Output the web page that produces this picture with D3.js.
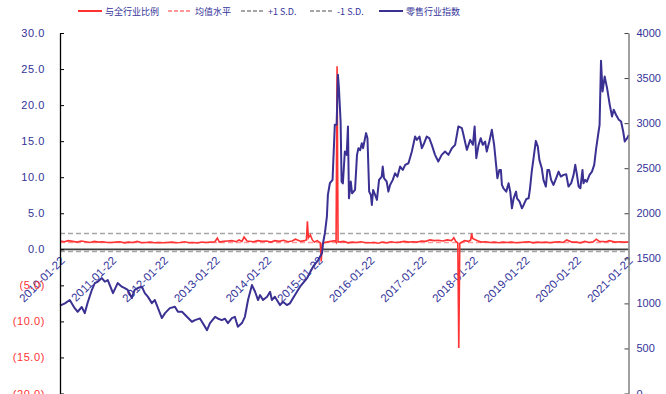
<!DOCTYPE html>
<meta charset="utf-8">
<html>
<head>
  <title>零售行业指数</title>
  <style>
    body { margin: 0; background: #fff; }
    svg { width: 666px; height: 394px; display: block; }
    .tick text { font-family: "Liberation Sans", Arial, sans-serif; font-size: 11px; }
    .xaxis .tick text { font-size: 11.5px; }
    .legend text { font-family: "Noto Sans CJK SC", sans-serif; font-size: 9px; fill: #333399; }
  </style>
  <script src="https://d3js.org/d3.v7.min.js"></script>
</head>
<body>
<svg></svg>
<script>
  // legend labels
  var seriesNames = ["与全行业比例", "均值水平", "+1 S.D.", "-1 S.D.", "零售行业指数"];

  // x tick labels (one per year)
  var xTicks = ["2010-01-22", "2011-01-22", "2012-01-22", "2013-01-22", "2014-01-22", "2015-01-22",
                "2016-01-22", "2017-01-22", "2018-01-22", "2019-01-22", "2020-01-22", "2021-01-22"];
  var leftTicks = [30, 25, 20, 15, 10, 5, 0, -5, -10, -15, -20];
  var rightTicks = [4000, 3500, 3000, 2500, 2000, 1500, 1000, 500, 0];

  // reference levels of the ratio
  var meanLevel = 0.93;
  var sdUpper = 2.18;
  var sdLower = -0.32;

  // 零售行业指数 (right axis)
  var indexData = [
    ["2010-01-22", 975], ["2010-02-26", 1000], ["2010-04-01", 1037], ["2010-05-06", 947], ["2010-05-27", 907],
    ["2010-06-25", 960], ["2010-07-16", 892], ["2010-08-06", 1010], ["2010-09-04", 1148], ["2010-09-25", 1225],
    ["2010-10-16", 1240], ["2010-11-14", 1281], ["2010-12-05", 1240], ["2010-12-26", 1259], ["2011-02-01", 1114],
    ["2011-03-06", 1225], ["2011-04-04", 1185], ["2011-04-25", 1170], ["2011-05-16", 1150], ["2011-06-14", 1059],
    ["2011-07-04", 1150], ["2011-07-26", 1170], ["2011-08-24", 1185], ["2011-09-14", 1114], ["2011-10-05", 1075],
    ["2011-11-03", 1003], ["2011-11-24", 1037], ["2012-01-13", 837], ["2012-02-04", 892], ["2012-03-09", 947],
    ["2012-04-14", 962], ["2012-05-05", 907], ["2012-06-03", 907], ["2012-07-08", 851], ["2012-08-12", 796],
    ["2012-09-03", 814], ["2012-10-08", 833], ["2012-10-22", 796], ["2012-11-27", 703], ["2012-12-18", 781],
    ["2013-01-23", 851], ["2013-02-14", 830], ["2013-03-12", 814], ["2013-04-03", 830], ["2013-04-24", 781],
    ["2013-05-22", 837], ["2013-06-12", 851], ["2013-07-03", 740], ["2013-08-01", 781], ["2013-08-22", 851],
    ["2013-09-13", 1037], ["2013-10-11", 1203], ["2013-11-02", 1129], ["2013-11-23", 1037], ["2013-12-07", 1092],
    ["2013-12-28", 1037], ["2014-01-26", 1074], ["2014-02-16", 1129], ["2014-03-01", 1037], ["2014-03-22", 1074],
    ["2014-04-27", 981], ["2014-05-18", 1018], ["2014-06-15", 981], ["2014-07-06", 1000], ["2014-08-11", 1092],
    ["2014-09-16", 1185], ["2014-11-05", 1281], ["2014-12-17", 1407], ["2015-01-22", 1481], ["2015-02-19", 1559],
    ["2015-02-26", 1670], ["2015-03-11", 1781], ["2015-03-25", 1962], ["2015-04-01", 2203], ["2015-04-15", 2333],
    ["2015-05-04", 2370], ["2015-05-20", 2981], ["2015-06-02", 2981], ["2015-06-11", 3537], ["2015-06-18", 3392],
    ["2015-06-30", 3018], ["2015-07-07", 2351], ["2015-07-16", 2330], ["2015-07-30", 2685], ["2015-08-12", 2648],
    ["2015-08-21", 2963], ["2015-08-28", 2166], ["2015-09-10", 2351], ["2015-09-19", 2222], ["2015-10-10", 2259],
    ["2015-10-24", 2648], ["2015-11-03", 2722], ["2015-11-15", 2700], ["2015-11-27", 2777], ["2015-12-06", 2722],
    ["2015-12-27", 2889], ["2016-01-06", 2833], ["2016-01-18", 2240], ["2016-01-30", 2203], ["2016-02-06", 2092],
    ["2016-02-15", 2259], ["2016-02-29", 2203], ["2016-03-13", 2148], ["2016-03-28", 2370], ["2016-04-16", 2407],
    ["2016-04-23", 2518], ["2016-05-02", 2389], ["2016-05-21", 2350], ["2016-06-02", 2240], ["2016-06-14", 2314],
    ["2016-07-03", 2370], ["2016-07-19", 2444], ["2016-08-05", 2407], ["2016-08-24", 2518], ["2016-09-12", 2481],
    ["2016-09-29", 2537], ["2016-10-22", 2555], ["2016-11-15", 2685], ["2016-12-08", 2851], ["2016-12-20", 2814],
    ["2017-01-08", 2851], ["2017-01-25", 2722], ["2017-02-10", 2777], ["2017-02-28", 2851], ["2017-03-18", 2833],
    ["2017-04-05", 2759], ["2017-04-28", 2648], ["2017-05-21", 2574], ["2017-06-14", 2648], ["2017-07-08", 2685],
    ["2017-08-01", 2648], ["2017-08-25", 2722], ["2017-09-17", 2759], ["2017-10-10", 2963], ["2017-11-04", 2944],
    ["2017-11-15", 2870], ["2017-12-09", 2703], ["2018-01-02", 2814], ["2018-01-21", 2760], ["2018-02-02", 2963],
    ["2018-02-14", 2611], ["2018-03-01", 2750], ["2018-03-17", 2833], ["2018-04-01", 2759], ["2018-04-17", 2796],
    ["2018-04-29", 2685], ["2018-05-17", 2796], ["2018-06-04", 2926], ["2018-06-20", 2759], ["2018-07-04", 2537],
    ["2018-07-13", 2389], ["2018-07-27", 2481], ["2018-08-07", 2481], ["2018-08-14", 2314], ["2018-08-25", 2277],
    ["2018-09-14", 2240], ["2018-09-30", 2333], ["2018-10-12", 2240], ["2018-10-24", 2055], ["2018-11-05", 2166],
    ["2018-11-22", 2240], ["2018-11-29", 2166], ["2018-12-17", 2129], ["2019-01-03", 2055], ["2019-01-15", 2092],
    ["2019-02-03", 2159], ["2019-02-19", 2166], ["2019-03-01", 2277], ["2019-03-13", 2462], ["2019-03-29", 2648],
    ["2019-04-11", 2803], ["2019-04-25", 2740], ["2019-05-06", 2592], ["2019-05-23", 2500], ["2019-06-04", 2370],
    ["2019-06-21", 2296], ["2019-07-02", 2481], ["2019-07-14", 2481], ["2019-07-28", 2370], ["2019-08-14", 2314],
    ["2019-09-02", 2389], ["2019-09-19", 2462], ["2019-10-05", 2407], ["2019-10-24", 2426], ["2019-11-12", 2433],
    ["2019-11-28", 2296], ["2019-12-17", 2333], ["2020-01-03", 2426], ["2020-01-15", 2537], ["2020-01-27", 2426],
    ["2020-02-08", 2296], ["2020-02-20", 2277], ["2020-03-06", 2481], ["2020-03-13", 2333], ["2020-03-25", 2370],
    ["2020-04-06", 2350], ["2020-04-25", 2426], ["2020-05-12", 2462], ["2020-05-28", 2537], ["2020-06-11", 2722],
    ["2020-06-28", 2907], ["2020-07-05", 2981], ["2020-07-15", 3692], ["2020-07-26", 3351], ["2020-08-10", 3518],
    ["2020-08-27", 3388], ["2020-09-15", 3203], ["2020-10-01", 3073], ["2020-10-13", 3148], ["2020-10-30", 3090],
    ["2020-11-18", 3037], ["2020-12-04", 3018], ["2020-12-19", 2907], ["2020-12-30", 2796], ["2021-01-16", 2833],
    ["2021-01-28", 2870]
  ];

  // 与全行业比例 (left axis)
  var ratioData = [
    ["2010-01-22", 1.15], ["2010-02-22", 1.05], ["2010-03-22", 1.2], ["2010-04-22", 1.1], ["2010-05-22", 1.0],
    ["2010-06-22", 1.15], ["2010-07-22", 1.05], ["2010-08-22", 0.95], ["2010-09-22", 1.1], ["2010-10-22", 1.0],
    ["2010-11-22", 1.05], ["2010-12-22", 0.95], ["2011-01-22", 0.95], ["2011-02-22", 1.0], ["2011-03-22", 1.05],
    ["2011-04-22", 0.9], ["2011-05-22", 1.0], ["2011-06-22", 0.95], ["2011-07-22", 1.1], ["2011-08-22", 0.9],
    ["2011-09-22", 0.95], ["2011-10-22", 1.0], ["2011-11-22", 0.9], ["2011-12-22", 0.95], ["2012-01-22", 0.9],
    ["2012-02-22", 0.95], ["2012-03-22", 1.0], ["2012-04-22", 0.9], ["2012-05-22", 0.95], ["2012-06-22", 1.05],
    ["2012-07-22", 0.9], ["2012-08-22", 0.95], ["2012-09-22", 0.88], ["2012-10-22", 1.0], ["2012-11-22", 0.95],
    ["2012-12-22", 1.0], ["2013-01-22", 1.05], ["2013-02-08", 1.55], ["2013-02-22", 1.0], ["2013-03-22", 1.1],
    ["2013-04-22", 1.15], ["2013-05-22", 1.2], ["2013-06-22", 1.05], ["2013-07-12", 1.3], ["2013-08-01", 1.1],
    ["2013-08-16", 1.7], ["2013-09-06", 1.15], ["2013-10-22", 1.05], ["2013-11-22", 1.2], ["2013-12-22", 1.1],
    ["2014-01-22", 1.15], ["2014-02-22", 1.0], ["2014-03-22", 1.2], ["2014-04-22", 1.1], ["2014-05-22", 1.25],
    ["2014-06-22", 1.05], ["2014-07-22", 1.15], ["2014-08-15", 1.4], ["2014-09-22", 1.1], ["2014-10-17", 1.2],
    ["2014-10-31", 1.3], ["2014-11-07", 3.9], ["2014-11-14", 1.6], ["2014-11-28", 2.0], ["2014-12-12", 1.3],
    ["2014-12-26", 1.0], ["2015-01-16", 1.2], ["2015-02-06", 0.9], ["2015-02-13", -1.7], ["2015-02-20", 0.8],
    ["2015-03-22", 1.0], ["2015-04-22", 1.1], ["2015-05-22", 1.2], ["2015-05-29", 1.0], ["2015-06-05", 25.4],
    ["2015-06-12", 1.0], ["2015-07-22", 1.1], ["2015-08-22", 0.9], ["2015-09-22", 1.0], ["2015-10-22", 0.95],
    ["2015-11-22", 1.05], ["2015-12-22", 0.9], ["2016-01-22", 0.9], ["2016-02-22", 0.95], ["2016-03-22", 0.85],
    ["2016-04-22", 1.0], ["2016-05-22", 0.9], ["2016-06-22", 1.05], ["2016-07-22", 0.95], ["2016-08-22", 1.0],
    ["2016-09-22", 1.1], ["2016-10-22", 1.0], ["2016-11-22", 1.05], ["2016-12-22", 1.0], ["2017-01-22", 1.15],
    ["2017-02-22", 1.1], ["2017-03-22", 1.3], ["2017-04-22", 1.2], ["2017-05-22", 1.25], ["2017-06-22", 1.15],
    ["2017-07-22", 1.3], ["2017-08-22", 1.2], ["2017-09-08", 1.6], ["2017-09-22", 1.1], ["2017-10-06", 0.9],
    ["2017-10-13", -13.7], ["2017-10-20", 0.8], ["2017-11-22", 1.2], ["2017-12-22", 1.1], ["2018-01-05", 1.3],
    ["2018-01-12", 2.2], ["2018-01-19", 1.5], ["2018-02-22", 1.2], ["2018-03-22", 1.0], ["2018-04-22", 1.05],
    ["2018-05-22", 0.95], ["2018-06-22", 1.0], ["2018-07-22", 0.9], ["2018-08-22", 1.0], ["2018-09-22", 0.95],
    ["2018-10-22", 1.0], ["2018-11-22", 0.9], ["2018-12-22", 0.95], ["2019-01-22", 1.0], ["2019-02-22", 1.05],
    ["2019-03-22", 0.9], ["2019-04-22", 1.0], ["2019-05-22", 0.95], ["2019-06-22", 1.0], ["2019-07-22", 0.9],
    ["2019-08-22", 1.0], ["2019-09-22", 1.05], ["2019-10-22", 0.95], ["2019-11-15", 1.3], ["2019-12-22", 1.0],
    ["2020-01-22", 1.0], ["2020-02-22", 0.9], ["2020-03-22", 1.1], ["2020-04-22", 0.95], ["2020-05-22", 1.05],
    ["2020-06-12", 1.4], ["2020-07-03", 1.1], ["2020-08-22", 1.05], ["2020-09-11", 1.2], ["2020-10-22", 1.0],
    ["2020-11-22", 1.05], ["2020-12-22", 1.0], ["2021-01-15", 1.0], ["2021-01-28", 1.05]
  ];

  var colorRatio = "#ff3333";
  var colorMean = "#ff9999";
  var colorSD = "#a6a6a6";
  var colorIndex = "#3a3193";
  var colorText = "#333399";

  var svg = d3.select("svg");
  var parseDate = d3.timeParse("%Y-%m-%d");

  // plot box (the bottom is cut off by the picture edge, as in the source)
  var plotLeft = 60, plotRight = 628.5, plotTop = 33, plotBottom = 393.5;

  var x = d3.scaleTime()
    .domain([parseDate(xTicks[0]), parseDate(xTicks[xTicks.length - 1])])
    .range([plotLeft, plotRight - 0.5]);
  var yL = d3.scaleLinear().domain([-20, 30]).range([plotBottom, plotTop]);
  var yR = d3.scaleLinear().domain([0, 4000]).range([plotBottom, plotTop]);

  // horizontal reference lines
  var refs = [
    {v: sdUpper, color: colorSD, dash: "5,3"},
    {v: sdLower, color: colorSD, dash: "5,3"},
    {v: meanLevel, color: colorMean, dash: "5,3"}
  ];
  svg.selectAll(".ref").data(refs).enter().append("line")
    .attr("class", "ref")
    .attr("x1", plotLeft).attr("x2", plotRight)
    .attr("y1", function(d) { return yL(d.v); })
    .attr("y2", function(d) { return yL(d.v); })
    .attr("stroke", function(d) { return d.color; })
    .attr("stroke-width", 1.5)
    .attr("stroke-dasharray", function(d) { return d.dash; });

  // x axis on the zero line, labels rotated
  var xAxis = svg.append("g")
    .attr("class", "xaxis")
    .attr("transform", "translate(0," + yL(0) + ")")
    .call(d3.axisBottom(x)
      .tickValues(xTicks.map(parseDate))
      .tickSize(0)
      .tickFormat(d3.timeFormat("%Y-%m-%d")));
  xAxis.select(".domain").attr("stroke", "#404040").attr("stroke-width", 1.8)
    .attr("d", "M" + plotLeft + ",0H" + plotRight);
  xAxis.selectAll("text")
    .attr("fill", colorText)
    .attr("text-anchor", "end")
    .attr("dy", null).attr("y", 0)
    .attr("transform", "translate(5,12) rotate(-45)");

  // ratio line
  var lineRatio = d3.line()
    .x(function(d) { return x(parseDate(d[0])); })
    .y(function(d) { return yL(d[1]); });
  svg.append("path")
    .datum(ratioData)
    .attr("fill", "none")
    .attr("stroke", colorRatio)
    .attr("stroke-width", 1.6)
    .attr("d", lineRatio);

  // index line
  var lineIndex = d3.line()
    .x(function(d) { return x(parseDate(d[0])); })
    .y(function(d) { return yR(d[1]); });
  svg.append("path")
    .datum(indexData)
    .attr("fill", "none")
    .attr("stroke", colorIndex)
    .attr("stroke-width", 2)
    .attr("stroke-linejoin", "round")
    .attr("d", lineIndex);

  // left axis
  var gL = svg.append("g")
    .attr("transform", "translate(" + plotLeft + ",0)")
    .call(d3.axisLeft(yL).tickValues(leftTicks).tickSizeInner(-4).tickSizeOuter(0).tickPadding(15)
      .tickFormat(function(d) { return d < 0 ? "(" + Math.abs(d).toFixed(1) + ")" : d.toFixed(1); }));
  gL.select(".domain").attr("stroke", "#000").attr("stroke-width", 1.3);
  gL.selectAll("line").attr("stroke", "#000");
  gL.selectAll("text")
    .attr("fill", function(d) { return d < 0 ? colorRatio : colorText; })
    .style("letter-spacing", "0.6px");

  // right axis
  var gR = svg.append("g")
    .attr("transform", "translate(" + plotRight + ",0)")
    .call(d3.axisRight(yR).tickValues(rightTicks).tickSizeInner(-4).tickSizeOuter(0).tickPadding(8)
      .tickFormat(d3.format("d")));
  gR.select(".domain").attr("stroke", "#808080").attr("stroke-width", 1.5);
  gR.selectAll("line").attr("stroke", "#404040");
  gR.selectAll("text").attr("fill", colorText);

  // legend
  var legendItems = [
    {name: seriesNames[0], color: colorRatio, dash: null, x: 78},
    {name: seriesNames[1], color: colorMean, dash: "4,2", x: 168},
    {name: seriesNames[2], color: colorSD, dash: "4,2", x: 241},
    {name: seriesNames[3], color: colorSD, dash: "4,2", x: 310},
    {name: seriesNames[4], color: colorIndex, dash: null, x: 379}
  ];
  var legend = svg.append("g").attr("class", "legend");
  var item = legend.selectAll("g").data(legendItems).enter().append("g")
    .attr("transform", function(d) { return "translate(" + d.x + ",11)"; });
  item.append("line")
    .attr("x1", 0).attr("x2", 24)
    .attr("stroke", function(d) { return d.color; })
    .attr("stroke-width", 2)
    .attr("stroke-dasharray", function(d) { return d.dash; });
  item.append("text")
    .attr("x", 27).attr("y", 3.5)
    .text(function(d) { return d.name; });
</script>
</body>
</html>
